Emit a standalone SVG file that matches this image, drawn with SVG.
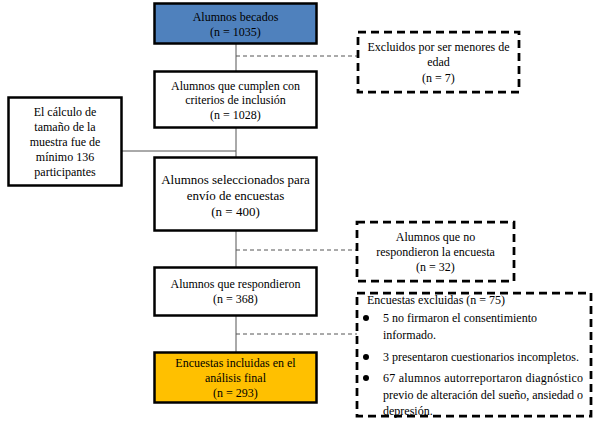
<svg xmlns="http://www.w3.org/2000/svg" width="598" height="423" viewBox="0 0 598 423">
<style>
text{font-family:"Liberation Serif","Times New Roman",serif;font-size:12px;fill:#000}
.c{text-anchor:middle}
.box{fill:#fff;stroke:#000;stroke-width:2.5}
.dbox{fill:#fff;stroke:#000;stroke-width:2.75;stroke-dasharray:8 5}
.ln{stroke:#555;stroke-width:1;fill:none}
.dl{stroke:#555;stroke-width:1;fill:none;stroke-dasharray:4 3}
</style>
<rect width="598" height="423" fill="#fff"/>
<g id="connectors">
<line class="ln" x1="236" y1="43" x2="236" y2="352"/>
<line class="ln" x1="122" y1="151" x2="236" y2="151"/>
<line class="dl" x1="236" y1="56" x2="358" y2="56"/>
<line class="dl" x1="236" y1="250" x2="357" y2="250"/>
<line class="dl" x1="236" y1="334" x2="357" y2="334"/>
</g>
<g id="becados">
<rect class="box" x="154.5" y="3.5" width="162" height="40" style="fill:#4F81BD"/>
<text class="c" x="235.5" y="21">Alumnos becados</text>
<text class="c" x="235.5" y="36">(n = 1035)</text>
</g>
<g id="cumplen">
<rect class="box" x="154.5" y="71.5" width="162" height="56"/>
<text class="c" x="235.5" y="90">Alumnos que cumplen con</text>
<text class="c" x="235.5" y="104">criterios de inclusión</text>
<text class="c" x="235.5" y="119">(n = 1028)</text>
</g>
<g id="calculo">
<rect class="box" x="8.5" y="97.5" width="113" height="88"/>
<text class="c" x="65" y="116">El cálculo de</text>
<text class="c" x="65" y="131">tamaño de la</text>
<text class="c" x="65" y="146">muestra fue de</text>
<text class="c" x="65" y="161">mínimo 136</text>
<text class="c" x="65" y="176">participantes</text>
</g>
<g id="seleccionados">
<rect class="box" x="154.5" y="157.5" width="162" height="73"/>
<text class="c" x="235.5" y="184" style="font-size:13px">Alumnos seleccionados para</text>
<text class="c" x="235.5" y="200" style="font-size:13px">envío de encuestas</text>
<text class="c" x="235.5" y="216" style="font-size:13px">(n = 400)</text>
</g>
<g id="respondieron">
<rect class="box" x="154.5" y="267.5" width="162" height="48"/>
<text class="c" x="235.5" y="288">Alumnos que respondieron</text>
<text class="c" x="235.5" y="303">(n = 368)</text>
</g>
<g id="incluidas">
<rect class="box" x="154.5" y="352.5" width="162" height="50" style="fill:#FFC000"/>
<text class="c" x="235.5" y="367">Encuestas incluidas en el</text>
<text class="c" x="235.5" y="382">análisis final</text>
<text class="c" x="235.5" y="397">(n = 293)</text>
</g>
<g id="excluidos">
<rect class="dbox" x="358" y="32" width="161" height="60"/>
<text class="c" x="438.5" y="51">Excluidos por ser menores de</text>
<text class="c" x="438.5" y="66">edad</text>
<text class="c" x="438.5" y="82">(n = 7)</text>
</g>
<g id="noRespondieron">
<rect class="dbox" x="357" y="222" width="157" height="59"/>
<text class="c" x="435.5" y="241">Alumnos que no</text>
<text class="c" x="435.5" y="256">respondieron la encuesta</text>
<text class="c" x="435.5" y="271">(n = 32)</text>
</g>
<g id="excluidas">
<rect class="dbox" x="357" y="293" width="234" height="123"/>
<text x="367" y="304">Encuestas excluidas (n = 75)</text>
<circle cx="366" cy="318" r="3"/>
<circle cx="366" cy="357" r="3"/>
<circle cx="366" cy="378" r="3"/>
<text x="383" y="322">5 no firmaron el consentimiento</text>
<text x="383" y="339">informado.</text>
<text x="383" y="361">3 presentaron cuestionarios incompletos.</text>
<text x="383" y="382" textLength="200" lengthAdjust="spacing">67 alumnos autorreportaron diagnóstico</text>
<text x="383" y="399" textLength="200" lengthAdjust="spacing">previo de alteración del sueño, ansiedad o</text>
<text x="383" y="415">depresión.</text>
</g>
</svg>
